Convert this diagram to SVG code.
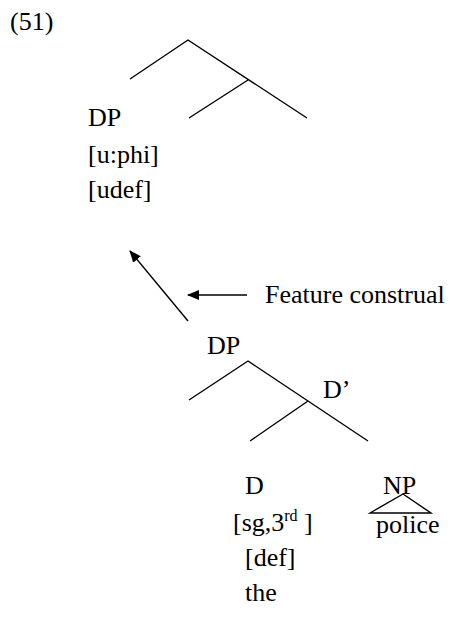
<svg xmlns="http://www.w3.org/2000/svg" width="450" height="628" viewBox="0 0 450 628">
<style>
.t{font-family:'Liberation Serif','DejaVu Serif',serif;font-size:26px;fill:#000}
.l{stroke:#000;stroke-width:1.4;fill:none}
.sup{font-size:16px}
</style>
<defs>
<marker id="ah" markerWidth="12" markerHeight="10" refX="11" refY="5" orient="auto" markerUnits="userSpaceOnUse">
<path d="M0,0 L12,5 L0,10 Z" fill="#000"/>
</marker>
</defs>
<rect width="450" height="628" fill="#fff"/>
<g class="t" font-family="Liberation Serif, DejaVu Serif, serif">
<text id="label51" x="10" y="30">(51)</text>
<g id="dp1">
<text x="88" y="126">DP</text>
<text x="88" y="163">[u:phi]</text>
<text x="88" y="198">[udef]</text>
</g>
<g id="feature"><text x="265" y="303">Feature construal</text></g>
<g id="dp2"><text x="207" y="354">DP</text></g>
<g id="dbar"><text x="323" y="398">D’</text></g>
<g id="d">
<text x="245" y="494">D</text>
<text x="233" y="531">[sg,3<tspan class="sup" dy="-10">rd</tspan><tspan dy="10"> ]</tspan></text>
<text x="245" y="566">[def]</text>
<text x="245" y="601">the</text>
</g>
<g id="np">
<text x="383" y="494">NP</text>
<text x="376" y="533">police</text>
</g>
</g>
<g id="tree1">
<path class="l" d="M130,79 L188,40 L307,118 M248,80 L189,118"/>
</g>
<g id="tree2">
<path class="l" d="M189,400 L248,361 L368,441 M308,401 L250,441"/>
</g>
<g id="np-triangle">
<path class="l" d="M370,513 L403,494 L431,513 Z"/>
</g>
<g id="connectors">
<line class="l" x1="188" y1="321" x2="130" y2="251" marker-end="url(#ah)"/>
<line class="l" x1="247" y1="295" x2="188" y2="295" marker-end="url(#ah)"/>
</g>
</svg>
